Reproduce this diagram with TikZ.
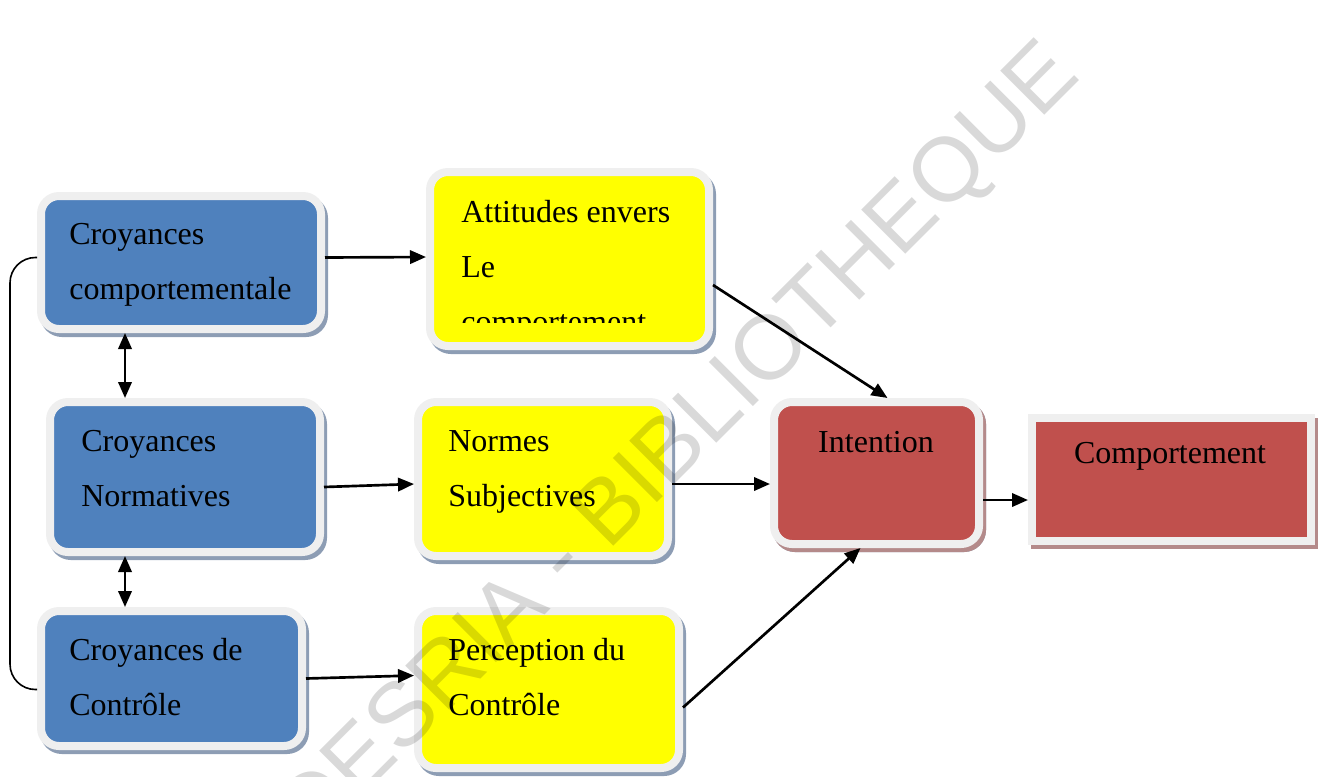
\documentclass[tikz,border=0pt]{standalone}
\usepackage{fontspec}
\setmainfont{Liberation Serif}
\newfontfamily\marquefont{Liberation Sans}
\usepackage{tikz}
\usetikzlibrary{arrows.meta,calc,shadows}
\definecolor{bleu}{HTML}{4F81BD}
\definecolor{jaune}{HTML}{FFFF00}
\definecolor{rouge}{HTML}{C0504D}
\definecolor{cadre}{HTML}{EFEFEF}
\definecolor{ombrebleue}{HTML}{8D9DB4}
\definecolor{ombrerouge}{HTML}{B48A8A}

\begin{document}
\begin{tikzpicture}[x=0.75pt,y=-0.75pt,>={Triangle[length=12pt,width=10pt]},
                    line width=2pt]
  \tikzstyle{boite}=[draw=cadre,line width=6pt,rounded corners=13.5pt,
    drop shadow={draw=ombrebleue,fill=ombrebleue,line width=6pt,opacity=1,
                 shadow xshift=2.25pt,shadow yshift=-3pt}]
  \tikzstyle{boiterouge}=[boite,fill=rouge,
    drop shadow={draw=ombrerouge,fill=ombrerouge,line width=6pt,opacity=1,
                 shadow xshift=2.25pt,shadow yshift=-3pt}]
  \tikzstyle{texte}=[font=\fontsize{24}{41.25}\selectfont,align=left,
    inner sep=0pt,anchor=base west]

  \useasboundingbox (0,0) rectangle (1322,776);

  % croyances (texte place sur la derniere ligne de base)
  \node[boite,fill=bleu,minimum width=210pt,minimum height=99.75pt] (cc) at (181,262.5) {};
  \node[boite,fill=bleu,minimum width=202.5pt,minimum height=112.5pt] (cn) at (185,477) {};
  \node[boite,fill=bleu,minimum width=195.75pt,minimum height=101.25pt] (cd) at (171.5,678.5) {};
  \node[texte] (cct) at (68,299) {Croyances\\comportementale};
  \node[texte] (cnt) at (80,506) {Croyances\\Normatives};
  \node[texte] (cdt) at (68,715) {Croyances de\\Contrôle};

  % attitudes, normes, perception
  \node[boite,fill=jaune,minimum width=209.25pt,minimum height=130.5pt] (att) at (569.5,259) {};
  \node[boite,fill=jaune,minimum width=187.5pt,minimum height=115.5pt] (ns) at (543,479) {};
  \node[boite,fill=jaune,minimum width=195.75pt,minimum height=117.75pt] (pc) at (548.5,689.5) {};
  \begin{scope}
    \clip (430,172) rectangle (709,322);
    \node[texte] (attt) at (460,332) {Attitudes envers\\Le\\comportement};
  \end{scope}
  \node[texte] (nst) at (447,506) {Normes\\Subjectives};
  \node[texte] (pct) at (447,715) {Perception du\\Contrôle};

  % intention, comportement
  \node[boiterouge,minimum width=153.75pt,minimum height=106.5pt] (int) at (876.5,473) {};
  \node[boiterouge,rounded corners=0pt,minimum width=209.25pt,minimum height=92.25pt] (comp) at (1171.5,479.5) {};
  \node[texte,anchor=base] (intt) at (876,452) {Intention};
  \node[texte,anchor=base] (compt) at (1170,463) {Comportement};

  \draw[->] ($(cc.east)+(0,-5)$) -- ($(att.west)+(0,-2)$);
  \draw[->] ($(cn.east)+(0,10)$) -- ($(ns.west)+(0,5)$);
  \draw[->] (cd.east) -- ($(pc.west)+(0,-14)$);
  \draw[->] ($(att.east)+(0,26)$) -- ($(int.north)+(11,0)$);
  \draw[->] ($(ns.east)+(0,5)$) -- ($(int.west)+(0,11)$);
  \draw[->] ($(pc.east)+(0,18)$) -- ($(int.south)+(-16,0)$);
  \draw[->] ($(int.east)+(0,27)$) -- ($(comp.west)+(0,20.5)$);
  \draw[<->] ($(cc.south)+(-56,0)$) -- ($(cn.north)+(-60,0)$);
  \draw[<->] ($(cn.south)+(-60,0)$) -- ($(cd.north)+(-46.5,0)$);
  \draw[line width=1.2pt,rounded corners=19pt] ($(cc.west)+(0,-5)$) -- ++(-27,0) |- ($(cd.west)+(0,11)$);

  \node[rotate=45,font=\marquefont\fontsize{68}{68}\selectfont,text=black,
        text opacity=0.15] (marque) at (633,494) {CODESRIA - BIBLIOTHEQUE};
\end{tikzpicture}
\end{document}
